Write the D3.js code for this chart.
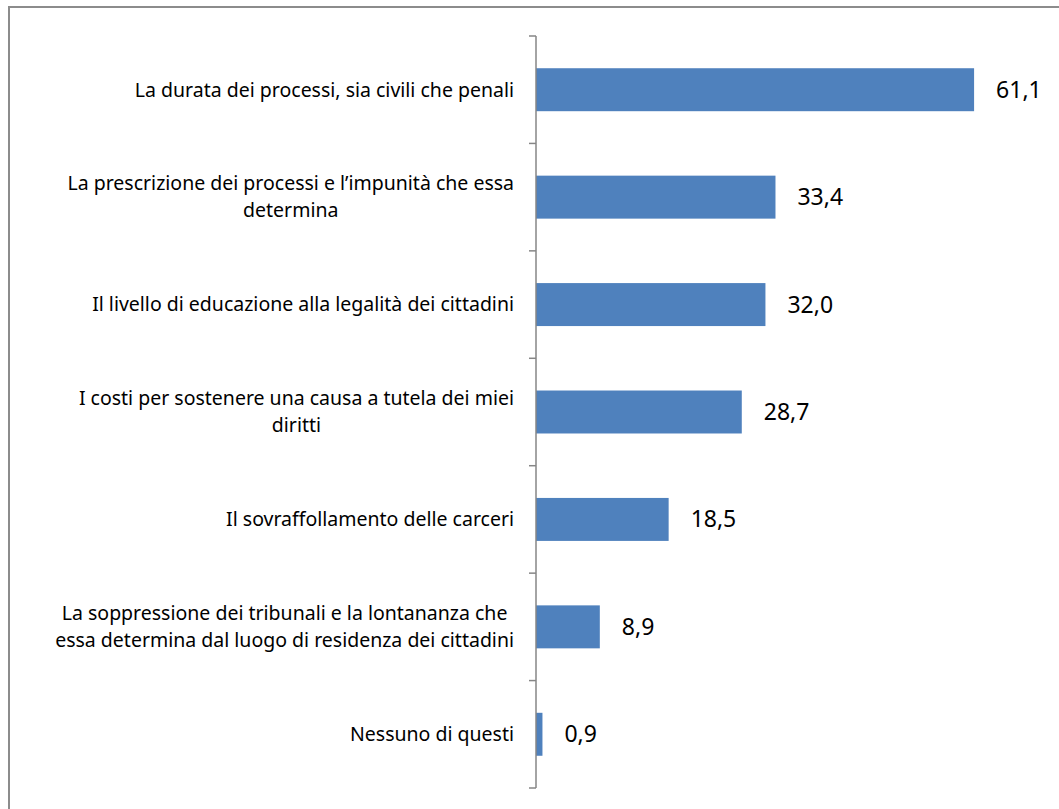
<!DOCTYPE html>
<html>
<head>
    <meta charset="utf-8">
    <script src="https://cdn.jsdelivr.net/npm/d3@7"></script>
    <style>
        html, body { margin: 0; padding: 0; background: #fff; }
        text { font-family: "Noto Sans", "Open Sans", sans-serif; fill: #000; }
    </style>
</head>
<body>
<div id="chart"></div>
<script>
    // answers (multi-line labels split where the original wraps)
    var categories = [
        ['La durata dei processi, sia civili che penali'],
        ['La prescrizione dei processi e l\u2019impunità che essa', 'determina'],
        ['Il livello di educazione alla legalità dei cittadini'],
        ['I costi per sostenere una causa a tutela dei miei', 'diritti'],
        ['Il sovraffollamento delle carceri'],
        ['La soppressione dei tribunali e la lontananza che', 'essa determina dal luogo di residenza dei cittadini'],
        ['Nessuno di questi']
    ];
    var values = [61.1, 33.4, 32.0, 28.7, 18.5, 8.9, 0.9];
    var valueLabels = ['61,1', '33,4', '32,0', '28,7', '18,5', '8,9', '0,9'];

    var W = 1059, H = 809;
    var svg = d3.select('#chart').append('svg')
        .attr('width', W).attr('height', H);

    // chart border (only top/left visible in the original crop)
    svg.append('path')
        .attr('d', 'M9,' + (H + 5) + 'V7H' + (W + 5))
        .attr('fill', 'none')
        .attr('stroke', '#8c8c8c')
        .attr('stroke-width', 2);

    var x0 = 536, yTop = 36, yBottom = 788;
    var x = d3.scaleLinear().domain([0, 70]).range([x0, x0 + 70 * 7.17]);
    var idx = d3.range(categories.length);
    var y = d3.scaleBand().domain(idx).range([yTop, yBottom])
        .paddingInner(0.6).paddingOuter(0.3);
    var step = y.step();

    svg.selectAll('rect.bar')
        .data(idx)
        .enter().append('rect')
        .attr('class', 'bar')
        .attr('x', x(0))
        .attr('y', i => y(i))
        .attr('width', i => x(values[i]) - x(0))
        .attr('height', y.bandwidth())
        .attr('fill', '#4f81bd');

    svg.selectAll('text.val')
        .data(idx)
        .enter().append('text')
        .attr('class', 'val')
        .attr('x', i => x(values[i]) + 22)
        .attr('y', i => y(i) + y.bandwidth() / 2)
        .attr('dy', '0.35em')
        .style('font-size', '23px')
        .text(i => valueLabels[i]);

    // axis line and ticks at category boundaries
    var axis = svg.append('g').attr('stroke', '#868686').attr('stroke-width', 1.5);
    axis.append('line')
        .attr('x1', x0).attr('x2', x0)
        .attr('y1', yTop).attr('y2', yBottom);
    axis.selectAll('line.tick')
        .data(d3.range(categories.length + 1))
        .enter().append('line')
        .attr('class', 'tick')
        .attr('x1', x0 - 7).attr('x2', x0)
        .attr('y1', k => yTop + k * step).attr('y2', k => yTop + k * step);

    // category labels: block right-aligned, lines centred within block
    var lineH = 27, rightEdge = 514;
    idx.forEach(function(i) {
        var lines = categories[i];
        var cy = y(i) + y.bandwidth() / 2;
        var g = svg.append('g');
        var texts = lines.map(function(s, j) {
            return g.append('text')
                .attr('y', cy + (j - (lines.length - 1) / 2) * lineH)
                .attr('dy', '0.35em')
                .attr('text-anchor', 'middle')
                .style('font-size', '19.5px')
                .text(s);
        });
        var maxW = d3.max(texts, t => t.node().getComputedTextLength());
        texts.forEach(t => t.attr('x', rightEdge - maxW / 2));
    });
</script>
</body>
</html>
